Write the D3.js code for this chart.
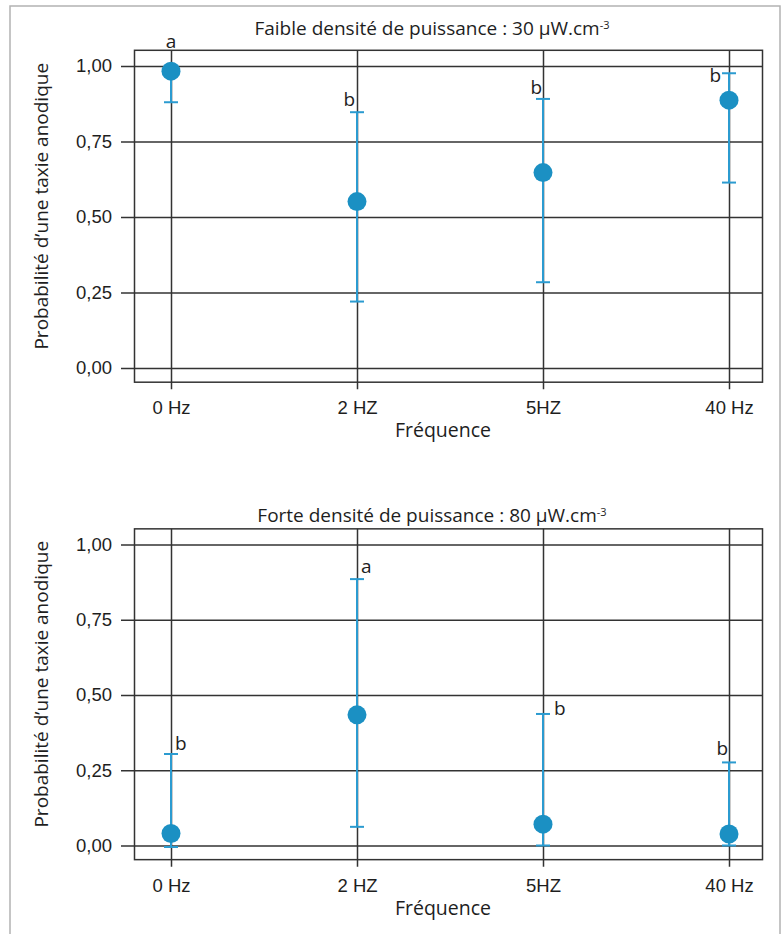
<!DOCTYPE html>
<html>
<head>
<meta charset="utf-8">
<script src="https://cdn.jsdelivr.net/npm/d3@7"></script>
<style>
  body { margin: 0; background: #fff; }
  svg { display: block; font-family: "Open Sans", "Noto Sans", sans-serif; }
  .grid line, .grid path { stroke: #333; stroke-width: 1.5; }
  .tick text { fill: #1e1e1e; }
  .panel-title, .axis-title, .letter { fill: #1e1e1e; }
  .err { stroke: #2b9bd0; stroke-width: 2; }
  .dot { fill: #1b90c3; }
</style>
</head>
<body>
<div class="chart"></div>
<script>
var categories = ['0 Hz', '2 HZ', '5HZ', '40 Hz'];
var yTicks = [0, 0.25, 0.5, 0.75, 1];

var lowMean = [0.983, 0.551, 0.647, 0.887];
var lowLower = [0.88, 0.22, 0.284, 0.614];
var lowUpper = [1.0, 0.847, 0.891, 0.976];
var lowLetters = ['a', 'b', 'b', 'b'];

var highMean = [0.04, 0.434, 0.071, 0.038];
var highLower = [-0.005, 0.062, 0.0, 0.0];
var highUpper = [0.304, 0.885, 0.437, 0.276];
var highLetters = ['b', 'a', 'b', 'b'];

var ErrorPanel;

ErrorPanel = (function() {

  function ErrorPanel(svg, opts) {
    this.svg = svg;
    this.opts = opts;
    this.rows = categories.map(function(c, i) {
      return {
        cat: c,
        mean: opts.mean[i],
        lo: opts.lower[i],
        hi: opts.upper[i],
        letter: opts.letters[i],
        place: opts.place[i]
      };
    });
    this.left = 134.5;
    this.right = 762.5;

    this.buildScales();
    this.buildSVG();
  }

  ErrorPanel.prototype.buildScales = function() {
    this.x = d3.scalePoint()
      .domain(categories)
      .range([171, 729]);
    this.y = d3.scaleLinear()
      .domain([0, 1])
      .range([this.opts.y0, this.opts.y1]);
  }

  ErrorPanel.prototype.buildSVG = function() {
    var self = this;
    var top = this.y(1.052), bottom = this.y(-0.047);
    var g = this.svg.append('g');

    g.append('text')
      .attr('class', 'panel-title')
      .attr('x', 432)
      .attr('y', this.opts.titleY)
      .attr('text-anchor', 'middle')
      .style('font-size', '19px')
      .call(function(t) {
        t.append('tspan').text(self.opts.title);
        t.append('tspan').style('font-size', '11px').attr('dy', -6).text('-3');
      });

    // horizontal grid + y labels
    var ya = g.append('g')
      .attr('class', 'grid')
      .attr('transform', 'translate(' + this.right + ',0)')
      .call(d3.axisLeft(this.y)
        .tickValues(yTicks)
        .tickSize(this.right - 121)
        .tickPadding(9)
        .tickFormat(function(d) { return d3.format('.2f')(d).replace('.', ','); }));
    ya.select('.domain').remove();
    ya.selectAll('.tick text').style('font-size', '18.5px');

    // vertical grid + x labels
    var xa = g.append('g')
      .attr('class', 'grid')
      .attr('transform', 'translate(0,' + top + ')')
      .call(d3.axisBottom(this.x)
        .tickSize(bottom - top + 7)
        .tickPadding(12));
    xa.select('.domain').remove();
    xa.selectAll('.tick text').style('font-size', '18.5px');

    g.append('rect')
      .attr('x', this.left)
      .attr('y', top)
      .attr('width', this.right - this.left)
      .attr('height', bottom - top)
      .attr('fill', 'none')
      .attr('stroke', '#333')
      .attr('stroke-width', 1.5);

    g.append('text')
      .attr('class', 'axis-title')
      .attr('x', 443)
      .attr('y', bottom + 55)
      .attr('text-anchor', 'middle')
      .style('font-size', '19.5px')
      .text('Fréquence');

    g.append('text')
      .attr('class', 'axis-title')
      .attr('transform', 'translate(48,' + ((top + bottom) / 2 - 10) + ') rotate(-90)')
      .attr('text-anchor', 'middle')
      .style('font-size', '19px')
      .text('Probabilité d\u2019une taxie anodique');

    var bars = g.selectAll('.bar')
      .data(this.rows)
      .enter()
      .append('g')
      .attr('class', 'bar');

    bars.append('line')
      .attr('class', 'err')
      .attr('x1', function(d) { return self.x(d.cat) })
      .attr('x2', function(d) { return self.x(d.cat) })
      .attr('y1', function(d) { return self.y(d.lo) })
      .attr('y2', function(d) { return self.y(d.hi) });

    ['lo', 'hi'].forEach(function(k) {
      bars.append('line')
        .attr('class', 'err')
        .attr('x1', function(d) { return self.x(d.cat) - 7 })
        .attr('x2', function(d) { return self.x(d.cat) + 7 })
        .attr('y1', function(d) { return self.y(d[k]) })
        .attr('y2', function(d) { return self.y(d[k]) });
    });

    bars.append('circle')
      .attr('class', 'dot')
      .attr('cx', function(d) { return self.x(d.cat) })
      .attr('cy', function(d) { return self.y(d.mean) })
      .attr('r', 9.5);

    bars.append('text')
      .attr('class', 'letter')
      .style('font-size', '19px')
      .attr('text-anchor', function(d) { return d.place[0] })
      .attr('x', function(d) { return self.x(d.cat) + d.place[1] })
      .attr('y', function(d) { return self.y(d.hi) + d.place[2] })
      .text(function(d) { return d.letter });
  }

  return ErrorPanel;

})();

var svg = d3.select('.chart')
  .append('svg')
  .attr('width', 783)
  .attr('height', 934);

// page frame
svg.append('path')
  .attr('d', 'M10,940V6H780V940')
  .attr('fill', 'none')
  .attr('stroke', '#b3b3b3')
  .attr('stroke-width', 1.5);

new ErrorPanel(svg, {
  title: 'Faible densité de puissance : 30 \u00b5W.cm',
  titleY: 35,
  y0: 368, y1: 66,
  mean: lowMean, lower: lowLower, upper: lowUpper, letters: lowLetters,
  place: [['middle', 0, -18], ['end', -2, -6], ['end', -1, -5], ['end', -8, 9]]
});

new ErrorPanel(svg, {
  title: 'Forte densité de puissance : 80 \u00b5W.cm',
  titleY: 522,
  y0: 845.5, y1: 544.5,
  mean: highMean, lower: highLower, upper: highUpper, letters: highLetters,
  place: [['start', 4, -4], ['start', 4, -6], ['start', 11, 1], ['end', -1, -7]]
});
</script>
</body>
</html>
